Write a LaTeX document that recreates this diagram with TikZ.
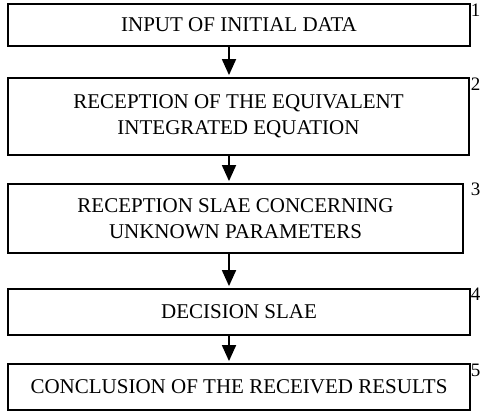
\documentclass[tikz,border=0pt]{standalone}
\usepackage{fontspec}
\setmainfont{Liberation Serif}
\usetikzlibrary{arrows.meta}
\begin{document}
\begin{tikzpicture}[x=1pt,y=-1pt,
  box/.style={draw, line width=1.8pt, inner sep=0pt, align=center,
    font=\fontsize{21}{26.5}\selectfont},
  num/.style={anchor=north east, inner sep=0pt, font=\fontsize{19}{23}\selectfont},
  arr/.style={line width=1.8pt, -{Triangle[width=14pt,length=16pt]}, shorten >=2pt}]
\useasboundingbox (0,0) rectangle (481,411);
\node[box, minimum width=462pt, minimum height=42pt] (b1) at (239,25) {INPUT OF INITIAL DATA};
\node[box, minimum width=461pt, minimum height=77pt] (b2) at (238.5,116.5) {RECEPTION OF THE EQUIVALENT\\INTEGRATED EQUATION};
\node[box, minimum width=455pt, minimum height=69pt] (b3) at (235.5,218.5) {RECEPTION SLAE CONCERNING\\UNKNOWN PARAMETERS};
\node[box, minimum width=462pt, minimum height=46pt] (b4) at (239,312) {DECISION SLAE};
\node[box, minimum width=462pt, minimum height=46pt] (b5) at (239,387) {CONCLUSION OF THE RECEIVED RESULTS};
\node[num] (n1) at (480.5,4) {1};
\node[num] (n2) at (480.5,78) {2};
\node[num] (n3) at (480.5,183) {3};
\node[num] (n4) at (480.5,288) {4};
\node[num] (n5) at (480.5,364) {5};
\coordinate (ax) at (229,0);
\draw[arr] (b1.south -| ax) -- (b2.north -| ax);
\draw[arr] (b2.south -| ax) -- (b3.north -| ax);
\draw[arr] (b3.south -| ax) -- (b4.north -| ax);
\draw[arr] (b4.south -| ax) -- (b5.north -| ax);
\end{tikzpicture}
\end{document}
